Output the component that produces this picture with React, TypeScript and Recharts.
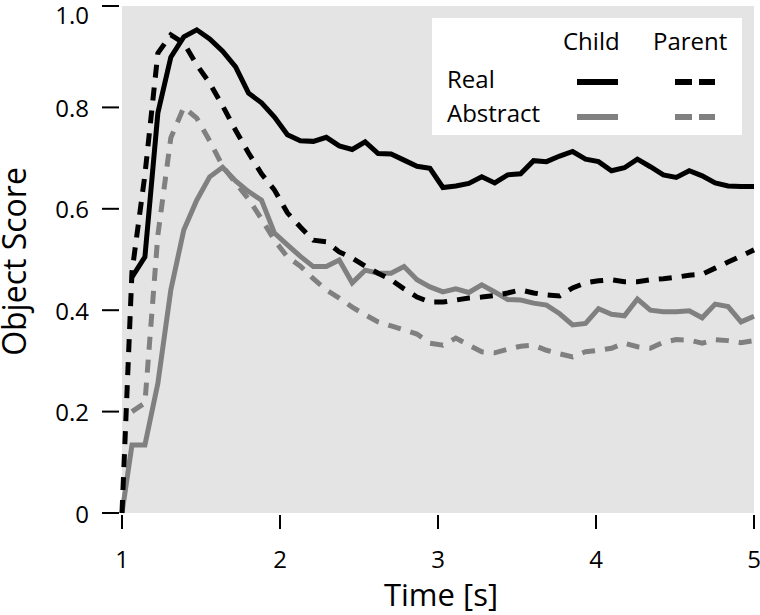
import React from 'react';
import { LineChart, Line, XAxis, YAxis, CartesianGrid, Legend } from 'recharts';

const times = [1, 1.063, 1.145, 1.227, 1.309, 1.391, 1.473, 1.555, 1.637, 1.719, 1.801, 1.883, 1.965, 2.047, 2.129, 2.211, 2.293, 2.375, 2.457, 2.539, 2.621, 2.703, 2.785, 2.867, 2.949, 3.031, 3.113, 3.195, 3.277, 3.359, 3.441, 3.523, 3.605, 3.687, 3.77, 3.852, 3.934, 4.016, 4.098, 4.18, 4.262, 4.344, 4.426, 4.508, 4.59, 4.672, 4.754, 4.836, 4.918, 5.0];

const realChild = [null, 0.465, 0.505, 0.789, 0.899, 0.939, 0.953, 0.935, 0.911, 0.88, 0.828, 0.809, 0.781, 0.746, 0.734, 0.733, 0.741, 0.724, 0.717, 0.732, 0.709, 0.708, 0.696, 0.684, 0.68, 0.642, 0.645, 0.65, 0.663, 0.651, 0.667, 0.669, 0.695, 0.693, 0.704, 0.713, 0.698, 0.693, 0.675, 0.681, 0.698, 0.683, 0.667, 0.662, 0.675, 0.665, 0.651, 0.645, 0.644, 0.644];

const realParent = [0, 0.475, 0.667, 0.907, 0.943, 0.927, 0.884, 0.848, 0.803, 0.755, 0.71, 0.669, 0.637, 0.592, 0.564, 0.538, 0.535, 0.515, 0.503, 0.487, 0.473, 0.46, 0.442, 0.426, 0.416, 0.416, 0.42, 0.424, 0.426, 0.429, 0.434, 0.44, 0.434, 0.43, 0.428, 0.444, 0.454, 0.458, 0.46, 0.456, 0.456, 0.46, 0.462, 0.465, 0.469, 0.471, 0.483, 0.495, 0.507, 0.519];

const abstractChild = [0, 0.134, 0.134, 0.256, 0.44, 0.558, 0.617, 0.663, 0.682, 0.655, 0.634, 0.617, 0.552, 0.529, 0.506, 0.486, 0.486, 0.499, 0.454, 0.479, 0.473, 0.473, 0.486, 0.46, 0.446, 0.436, 0.442, 0.435, 0.45, 0.436, 0.421, 0.42, 0.414, 0.41, 0.393, 0.371, 0.374, 0.403, 0.392, 0.389, 0.422, 0.4, 0.397, 0.397, 0.399, 0.385, 0.412, 0.407, 0.377, 0.388];

const abstractParent = [null, 0.2, 0.217, 0.548, 0.74, 0.8, 0.779, 0.734, 0.684, 0.651, 0.619, 0.58, 0.538, 0.505, 0.487, 0.462, 0.44, 0.424, 0.406, 0.391, 0.377, 0.369, 0.361, 0.353, 0.335, 0.331, 0.345, 0.331, 0.318, 0.316, 0.323, 0.329, 0.331, 0.321, 0.314, 0.308, 0.318, 0.321, 0.325, 0.335, 0.328, 0.325, 0.337, 0.342, 0.341, 0.335, 0.342, 0.34, 0.336, 0.34];

const xTicks = [1, 2, 3, 4, 5];
const yTicks = [0, 0.2, 0.4, 0.6, 0.8, 1.0];
const legendCols = ['Child', 'Parent'];
const legendRows = ['Real', 'Abstract'];

const data = times.map((t, i) => ({
  t,
  realChild: realChild[i],
  realParent: realParent[i],
  abstractChild: abstractChild[i],
  abstractParent: abstractParent[i],
}));

const FONT = '"Open Sans", sans-serif';
const BLACK = '#000000';
const GRAY = '#808080';
const BG = '#e4e4e4';
const DASH = '13 10';

const YTick = (props: any) => {
  const { x, y, payload } = props;
  const v = payload.value;
  const label = v === 0 ? '0' : v.toFixed(1);
  return (
    <g>
      <line x1={x - 20} x2={x - 3} y1={y} y2={y} stroke={BLACK} strokeWidth={2} />
      <text x={x - 33} y={Math.max(y, 14)} textAnchor="end" dominantBaseline="central" fontSize={24} fontFamily={FONT} fill={BLACK}>
        {label}
      </text>
    </g>
  );
};

const XTick = (props: any) => {
  const { x, y, payload } = props;
  return (
    <g>
      <line x1={x} x2={x} y1={y + 2} y2={y + 16} stroke={BLACK} strokeWidth={2} />
      <text x={x} y={y + 45} textAnchor="middle" dominantBaseline="central" fontSize={24} fontFamily={FONT} fill={BLACK}>
        {String(payload.value)}
      </text>
    </g>
  );
};

const YLabel = (props: any) => {
  const vb = props.viewBox || { x: 0, y: 6, width: 122, height: 507 };
  const cx = vb.x + 26;
  const cy = vb.y + vb.height / 2 + 2;
  return (
    <text transform={`translate(${cx},${cy}) rotate(-90)`} textAnchor="middle" fontSize={32} fontFamily={FONT} fill={BLACK}>
      Object Score
    </text>
  );
};

const XLabel = (props: any) => {
  const vb = props.viewBox || { x: 122, y: 513, width: 632, height: 102 };
  return (
    <text x={vb.x + vb.width / 2 + 3} y={vb.y + 93} textAnchor="middle" fontSize={31} fontFamily={FONT} fill={BLACK}>
      Time [s]
    </text>
  );
};

const LegendBox = () => {
  const colX = [131, 221];
  const rowY = [70, 104];
  const lineY = [64, 99];
  const sampleX = [[145, 186], [243, 283]];
  const colors = [BLACK, GRAY];
  return (
    <div style={{ width: 310, height: 117, background: '#ffffff' }}>
      <svg width={310} height={117} style={{ display: 'block' }}>
        {legendCols.map((c, i) => (
          <text key={c} x={colX[i]} y={32} fontSize={24} fontFamily={FONT} fill={BLACK}>{c}</text>
        ))}
        {legendRows.map((r, j) => (
          <g key={r}>
            <text x={15} y={rowY[j]} fontSize={24} fontFamily={FONT} fill={BLACK}>{r}</text>
            {legendCols.map((c, i) => (
              <line
                key={c}
                x1={sampleX[i][0]}
                x2={sampleX[i][1]}
                y1={lineY[j]}
                y2={lineY[j]}
                stroke={colors[j]}
                strokeWidth={6}
                strokeDasharray={i === 1 ? '17 7' : undefined}
              />
            ))}
          </g>
        ))}
      </svg>
    </div>
  );
};

export default function App() {
  return (
    <div style={{ position: 'fixed', left: 0, top: 0, width: 760, height: 615, background: '#ffffff' }}>
      <LineChart width={760} height={615} data={data} margin={{ top: 6, right: 6, left: 0, bottom: 0 }} style={{ fontFamily: FONT }}>
        <CartesianGrid fill={BG} stroke="none" horizontal={false} vertical={false} />
        <XAxis
          dataKey="t"
          type="number"
          domain={[1, 5]}
          ticks={xTicks}
          height={102}
          axisLine={false}
          tickLine={false}
          tickSize={0}
          tickMargin={0}
          tick={<XTick />}
          label={<XLabel />}
          interval={0}
        />
        <YAxis
          type="number"
          domain={[0, 1]}
          ticks={yTicks}
          width={122}
          axisLine={false}
          tickLine={false}
          tickSize={0}
          tickMargin={0}
          tick={<YTick />}
          label={<YLabel />}
          interval={0}
        />
        <Legend
          layout="vertical"
          align="center"
          verticalAlign="middle"
          wrapperStyle={{ left: 432, top: 18, width: 310, height: 117 }}
          content={<LegendBox />}
        />
        <Line type="linear" dataKey="abstractParent" stroke={GRAY} strokeWidth={5} strokeDasharray={DASH} dot={false} isAnimationActive={false} />
        <Line type="linear" dataKey="abstractChild" stroke={GRAY} strokeWidth={5} dot={false} isAnimationActive={false} />
        <Line type="linear" dataKey="realParent" stroke={BLACK} strokeWidth={5} strokeDasharray={DASH} dot={false} isAnimationActive={false} />
        <Line type="linear" dataKey="realChild" stroke={BLACK} strokeWidth={5} dot={false} isAnimationActive={false} />
      </LineChart>
    </div>
  );
}
